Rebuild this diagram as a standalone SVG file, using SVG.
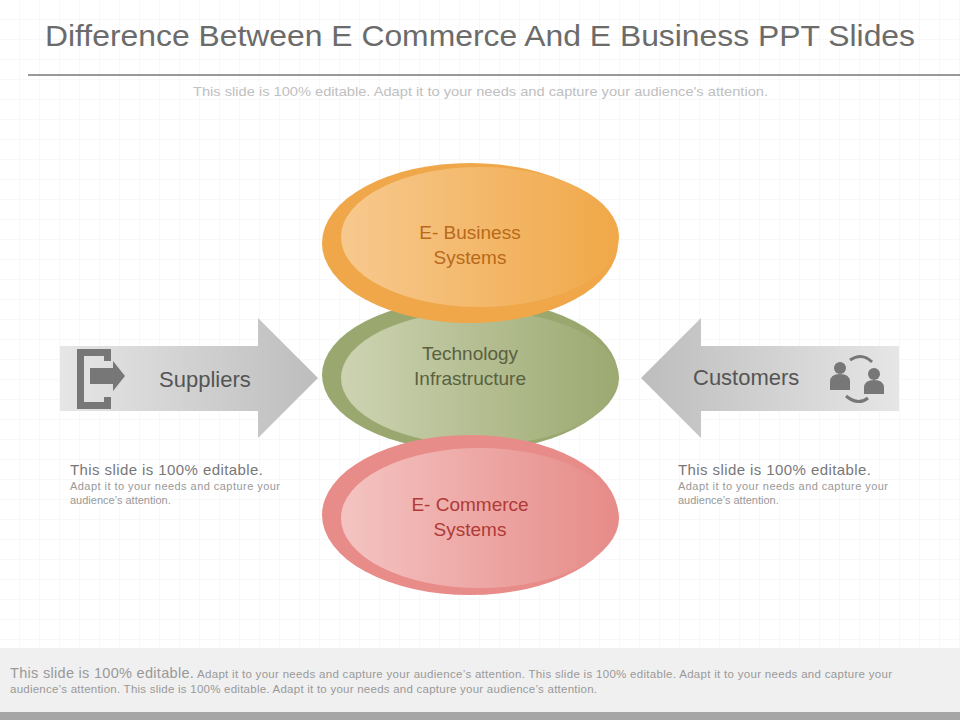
<svg xmlns="http://www.w3.org/2000/svg" width="960" height="720" viewBox="0 0 960 720">
<defs>
<linearGradient id="ga" x1="0" x2="1"><stop offset="0" stop-color="#e6e6e6"/><stop offset="1" stop-color="#bdbdbd"/></linearGradient>
<linearGradient id="gb" x1="1" x2="0"><stop offset="0" stop-color="#e6e6e6"/><stop offset="1" stop-color="#bdbdbd"/></linearGradient>
<linearGradient id="go" x1="0" x2="1"><stop offset="0" stop-color="#f7c98e"/><stop offset="1" stop-color="#f0a848"/></linearGradient>
<linearGradient id="gg" x1="0" x2="1"><stop offset="0" stop-color="#cdd3b2"/><stop offset="1" stop-color="#9ca971"/></linearGradient>
<linearGradient id="gr" x1="0" x2="1"><stop offset="0" stop-color="#f4c4c2"/><stop offset="1" stop-color="#e68b88"/></linearGradient>
<pattern id="grid" width="20" height="20" patternUnits="userSpaceOnUse"><path d="M20 0V20H0" fill="none" stroke="#f1f1f1" stroke-width="1"/></pattern>
</defs>
<style>
text{font-family:"Liberation Sans",Arial,sans-serif}
.lbl{font-size:19px;text-anchor:middle}
.big{font-size:22px;fill:#555}
.h{font-size:15px;fill:#777}
.s{font-size:11px;fill:#999}
</style>
<rect width="960" height="720" fill="#fff"/>
<rect width="960" height="720" fill="url(#grid)"/>
<text x="45" y="46" font-size="30" fill="#6b6b6b" textLength="870" lengthAdjust="spacingAndGlyphs">Difference Between E Commerce And E Business PPT Slides</text>
<rect x="28" y="74" width="932" height="2" fill="#999"/>
<text x="193" y="96" font-size="13" fill="#c0c0c0" textLength="575" lengthAdjust="spacingAndGlyphs">This slide is 100% editable. Adapt it to your needs and capture your audience's attention.</text>

<g id="suppliers">
<path d="M60 346H258V318L318 378L258 438V411H60Z" fill="url(#ga)"/>
<path d="M77 349H111V361H104V356H84V402H104V397H111V409H77Z" fill="#777"/>
<path d="M90 368H113V361L125 376L113 391V384H90Z" fill="#777"/>
<text x="159" y="387" class="big">Suppliers</text>
</g>
<g id="customers">
<path d="M899 346H701V318L641 378L701 438V411H899Z" fill="url(#gb)"/>
<text x="693" y="385" class="big">Customers</text>
<g fill="#777">
<circle cx="840" cy="368" r="6"/><path d="M830 390V382Q830 374 840 374Q850 374 850 382V390Z"/>
<circle cx="874" cy="374" r="6"/><path d="M864 394V388Q864 380 874 380Q884 380 884 388V394Z"/>
<path d="M850 360Q862 352 872 362" fill="none" stroke="#777" stroke-width="3"/>
<path d="M846 396Q858 406 868 398" fill="none" stroke="#777" stroke-width="3"/>
</g>
</g>

<g id="tech">
<ellipse cx="470" cy="375" rx="148" ry="76" fill="#9aa86f"/>
<ellipse cx="480" cy="378" rx="139" ry="67" fill="url(#gg)"/>
<text x="470" y="360" class="lbl" fill="#5a6040">Technology</text>
<text x="470" y="385" class="lbl" fill="#5a6040">Infrastructure</text>
</g>
<g id="ebusiness">
<ellipse cx="470" cy="243" rx="148" ry="80" fill="#efa74a"/>
<ellipse cx="480" cy="237" rx="139" ry="70" fill="url(#go)"/>
<text x="470" y="239" class="lbl" fill="#b8691a">E- Business</text>
<text x="470" y="264" class="lbl" fill="#b8691a">Systems</text>
</g>
<g id="ecommerce">
<ellipse cx="470" cy="515" rx="148" ry="80" fill="#e88c89"/>
<ellipse cx="480" cy="518" rx="139" ry="70" fill="url(#gr)"/>
<text x="470" y="511" class="lbl" fill="#b03a36">E- Commerce</text>
<text x="470" y="536" class="lbl" fill="#b03a36">Systems</text>
</g>
<g id="connectors"/>

<g id="notes">
<text x="70" y="475" class="h" textLength="193">This slide is 100% editable.</text>
<text x="70" y="490" class="s" textLength="210">Adapt it to your needs and capture your</text>
<text x="70" y="504" class="s">audience’s attention.</text>
<text x="678" y="475" class="h" textLength="193">This slide is 100% editable.</text>
<text x="678" y="490" class="s" textLength="210">Adapt it to your needs and capture your</text>
<text x="678" y="504" class="s">audience’s attention.</text>
</g>
<rect x="0" y="648" width="960" height="64" fill="#f0f0f0"/>
<rect x="0" y="712" width="960" height="8" fill="#a6a6a6"/>
<text x="10" y="678" font-size="11.5" fill="#999" textLength="882"><tspan font-size="14.5">This slide is 100% editable.</tspan> Adapt it to your needs and capture your audience’s attention. This slide is 100% editable. Adapt it to your needs and capture your</text>
<text x="10" y="693" font-size="11.5" fill="#999" textLength="587">audience’s attention. This slide is 100% editable. Adapt it to your needs and capture your audience’s attention.</text>
</svg>
